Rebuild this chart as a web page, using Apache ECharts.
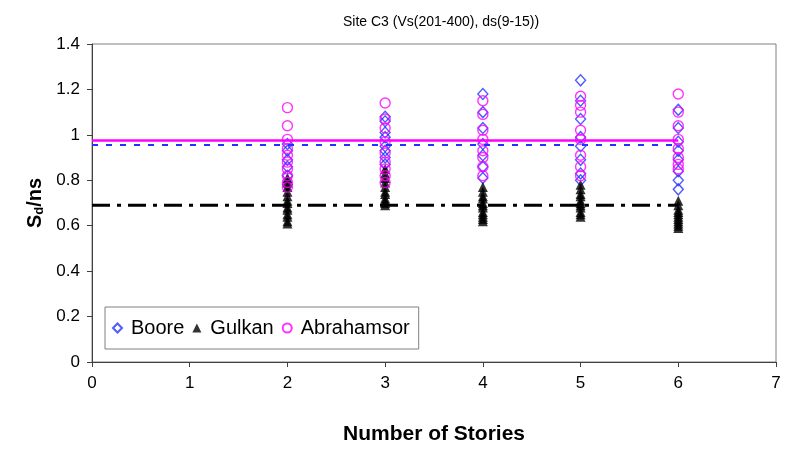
<!DOCTYPE html>
<html>
<head>
<meta charset="utf-8">
<script src="https://cdn.jsdelivr.net/npm/echarts@6/dist/echarts.min.js"></script>
<style>html,body{margin:0;padding:0;background:#fff}#c{width:796px;height:450px}</style>
</head>
<body>
<div id="c"></div>
<script>
// ---- data ----
var stories = [2, 3, 4, 5, 6];
var booreValues = [
  [0.96, 0.93, 0.89, 0.86, 0.82, 0.78],
  [1.08, 1.06, 1.01, 0.99, 0.95, 0.93, 0.90, 0.87],
  [1.18, 1.10, 1.03, 0.96, 0.91, 0.86, 0.81],
  [1.24, 1.15, 1.07, 0.99, 0.95, 0.89, 0.83, 0.80],
  [1.11, 1.03, 0.97, 0.93, 0.89, 0.84, 0.80, 0.76]
];
var gulkanValues = [
  [0.81, 0.79, 0.77, 0.75, 0.73, 0.71, 0.70, 0.68, 0.67, 0.65, 0.64, 0.62, 0.61],
  [0.85, 0.83, 0.81, 0.79, 0.77, 0.75, 0.74, 0.72, 0.71, 0.70, 0.69],
  [0.77, 0.75, 0.73, 0.72, 0.70, 0.69, 0.68, 0.66, 0.65, 0.64, 0.63, 0.62],
  [0.78, 0.76, 0.74, 0.73, 0.71, 0.70, 0.69, 0.68, 0.66, 0.65, 0.64],
  [0.71, 0.69, 0.67, 0.66, 0.65, 0.64, 0.63, 0.62, 0.61, 0.60, 0.59]
];
var abrahamsonValues = [
  [1.12, 1.04, 0.98, 0.94, 0.91, 0.88, 0.85, 0.82, 0.79, 0.77],
  [1.14, 1.07, 1.03, 0.97, 0.92, 0.88, 0.85, 0.82, 0.79],
  [1.15, 1.09, 1.02, 0.98, 0.93, 0.90, 0.86, 0.82],
  [1.17, 1.13, 1.10, 1.02, 0.98, 0.91, 0.86, 0.82],
  [1.18, 1.10, 1.04, 0.98, 0.94, 0.90, 0.87, 0.85]
];
var meanRangeX = [0, 6];
var booreMean = 0.955;
var gulkanMean = 0.69;
var abrahamsonMean = 0.975;
var seriesNames = ['Boore', 'Gulkan', 'Abrahamsor'];
var xTicks = {min: 0, max: 7, interval: 1};
var yTicks = {min: 0, max: 1.4, interval: 0.2};

function pairs(cols) {
  var out = [];
  cols.forEach(function (vals, i) {
    vals.forEach(function (v) { out.push([stories[i], v]); });
  });
  return out;
}
function hline(v) { return meanRangeX.map(function (x) { return [x, v]; }); }

var font = 'Liberation Sans, Arial, sans-serif';
var chart = echarts.init(document.getElementById('c'), null, {renderer: 'canvas'});
chart.setOption({
  animation: false,
  backgroundColor: '#fff',
  title: {
    text: 'Site C3 (Vs(201-400), ds(9-15))',
    left: 436, top: 10, textAlign: 'center',
    textStyle: {fontFamily: font, fontSize: 14, fontWeight: 'normal', color: '#000'}
  },
  grid: {left: 92, right: 20, top: 44, bottom: 87, show: true, borderColor: '#808080', borderWidth: 1},
  legend: {
    data: seriesNames,
    left: 105, top: 307,
    orient: 'horizontal',
    borderColor: '#808080', borderWidth: 1,
    padding: [10, 9, 10, 7],
    itemGap: 8, itemWidth: 9, itemHeight: 9,
    textStyle: {fontFamily: font, fontSize: 20, lineHeight: 22, color: '#000', padding: [0, 0, 0, 4]}
  },
  xAxis: {
    type: 'value', min: xTicks.min, max: xTicks.max, interval: xTicks.interval,
    name: 'Number of Stories', nameLocation: 'middle', nameGap: 62,
    nameTextStyle: {fontFamily: font, fontSize: 21, fontWeight: 'bold', color: '#000'},
    axisLine: {show: true, onZero: false, lineStyle: {color: '#404040', width: 1}},
    axisTick: {show: true, inside: false, length: 5, lineStyle: {color: '#404040'}},
    axisLabel: {fontFamily: font, fontSize: 17, color: '#000', margin: 13},
    splitLine: {show: false}
  },
  yAxis: {
    type: 'value', min: yTicks.min, max: yTicks.max, interval: yTicks.interval,
    name: '{m|S}{s|d}{m|/ns}', nameLocation: 'middle', nameGap: 40, nameRotate: 90,
    nameTextStyle: {
      rich: {
        m: {fontFamily: font, fontSize: 20, fontWeight: 'bold', color: '#000'},
        s: {fontFamily: font, fontSize: 13, fontWeight: 'bold', color: '#000', verticalAlign: 'bottom', padding: [7, 0, 0, 0]}
      }
    },
    axisLine: {show: true, lineStyle: {color: '#404040', width: 1}},
    axisTick: {show: true, inside: false, length: 5, lineStyle: {color: '#404040'}},
    axisLabel: {fontFamily: font, fontSize: 17, color: '#000', margin: 12},
    splitLine: {show: false}
  },
  series: [
    {
      name: seriesNames[0], type: 'scatter', data: pairs(booreValues),
      symbol: 'diamond', symbolSize: [10, 11],
      itemStyle: {color: 'rgba(255,255,255,0)', borderColor: '#2233ff', borderWidth: 1.4}, z: 2
    },
    {
      name: seriesNames[1], type: 'scatter', data: pairs(gulkanValues),
      symbol: 'triangle', symbolSize: [10, 10],
      itemStyle: {color: '#000'}, z: 3
    },
    {
      name: seriesNames[2], type: 'scatter', data: pairs(abrahamsonValues),
      symbol: 'circle', symbolSize: 10,
      itemStyle: {color: 'rgba(255,255,255,0)', borderColor: '#ff00ff', borderWidth: 1.4}, z: 4
    },
    {
      name: 'BooreMean', type: 'line', data: hline(booreMean), showSymbol: false, symbol: 'none', silent: true, z: 5,
      lineStyle: {color: '#2233ff', width: 2, type: [6, 8]}
    },
    {
      name: 'GulkanMean', type: 'line', data: hline(gulkanMean), showSymbol: false, symbol: 'none', silent: true, z: 5,
      lineStyle: {color: '#000', width: 3, type: [18, 7, 4, 7]}
    },
    {
      name: 'AbrahamsonMean', type: 'line', data: hline(abrahamsonMean), showSymbol: false, symbol: 'none', silent: true, z: 6,
      lineStyle: {color: '#ff00ff', width: 2.5}
    }
  ]
});
</script>
</body>
</html>
